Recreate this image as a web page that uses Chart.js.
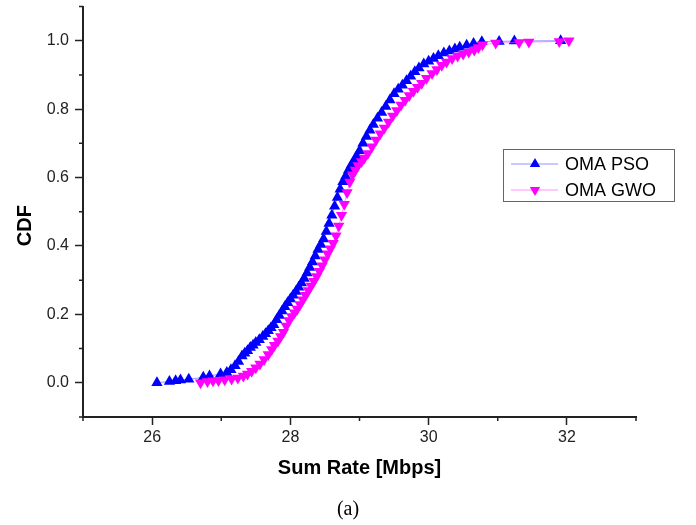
<!DOCTYPE html>
<html>
<head>
<meta charset="utf-8">
<title>CDF of Sum Rate</title>
<script src="https://cdn.jsdelivr.net/npm/chart.js@4.4.1/dist/chart.umd.min.js"></script>
<style>
  html, body { margin: 0; padding: 0; background: #fff; }
  #wrap { width: 696px; height: 525px; }
</style>
</head>
<body>
<div id="wrap"><canvas id="cdf" width="696" height="525"></canvas></div>
<script>
// series names and values
const seriesNames = ["OMA PSO", "OMA GWO"];

const psoRate = [26.07, 26.25, 26.34, 26.41, 26.53, 26.74, 26.83, 26.99, 27.08, 27.14,
  27.20, 27.25, 27.30, 27.34, 27.38, 27.42, 27.46, 27.50, 27.55, 27.60,
  27.64, 27.68, 27.72, 27.76, 27.80, 27.84, 27.88, 27.92, 27.96, 28.00,
  28.04, 28.08, 28.12, 28.16, 28.20, 28.24, 28.28, 28.32, 28.36, 28.40,
  28.44, 28.48, 28.52, 28.56, 28.60, 28.64, 28.68, 28.72, 28.76, 28.80,
  28.84, 28.88, 28.92, 28.96, 29.00, 29.05, 29.10, 29.15, 29.20, 29.26,
  29.32, 29.38, 29.44, 29.50, 29.56, 29.62, 29.68, 29.74, 29.80, 29.86,
  29.93, 30.00, 30.07, 30.14, 30.22, 30.30, 30.38, 30.45, 30.55, 30.65,
  30.77, 31.02, 31.24, 31.91];
const psoCdf = [0.000, 0.004, 0.006, 0.008, 0.010, 0.016, 0.020, 0.026, 0.030, 0.038,
  0.050, 0.062, 0.078, 0.086, 0.094, 0.103, 0.110, 0.118, 0.126, 0.135,
  0.143, 0.152, 0.161, 0.170, 0.184, 0.197, 0.210, 0.222, 0.234, 0.245,
  0.256, 0.267, 0.279, 0.292, 0.305, 0.321, 0.337, 0.353, 0.371, 0.390,
  0.404, 0.420, 0.442, 0.466, 0.490, 0.516, 0.542, 0.566, 0.588, 0.604,
  0.621, 0.636, 0.650, 0.663, 0.678, 0.700, 0.720, 0.738, 0.755, 0.773,
  0.790, 0.808, 0.827, 0.845, 0.858, 0.870, 0.883, 0.896, 0.909, 0.920,
  0.932, 0.940, 0.948, 0.956, 0.964, 0.970, 0.976, 0.981, 0.987, 0.992,
  0.997, 0.998, 0.999, 1.000];

const gwoRate = [26.70, 26.80, 26.88, 26.96, 27.05, 27.15, 27.24, 27.32, 27.38, 27.44,
  27.50, 27.56, 27.62, 27.68, 27.73, 27.77, 27.82, 27.86, 27.90, 27.94,
  27.98, 28.02, 28.06, 28.10, 28.14, 28.18, 28.22, 28.26, 28.30, 28.34,
  28.38, 28.42, 28.46, 28.50, 28.54, 28.58, 28.62, 28.66, 28.70, 28.74,
  28.78, 28.82, 28.86, 28.90, 28.94, 28.98, 29.03, 29.07, 29.12, 29.18,
  29.24, 29.30, 29.36, 29.42, 29.48, 29.54, 29.60, 29.66, 29.72, 29.78,
  29.84, 29.90, 29.97, 30.05, 30.12, 30.19, 30.26, 30.34, 30.42, 30.50,
  30.58, 30.66, 30.72, 30.78, 30.97, 31.31, 31.45, 31.89, 32.03];
const gwoCdf = [0.000, 0.004, 0.006, 0.007, 0.009, 0.011, 0.014, 0.020, 0.026, 0.034,
  0.044, 0.055, 0.068, 0.083, 0.097, 0.110, 0.122, 0.135, 0.148, 0.166,
  0.182, 0.194, 0.205, 0.216, 0.229, 0.243, 0.256, 0.270, 0.283, 0.297,
  0.311, 0.326, 0.342, 0.360, 0.377, 0.392, 0.408, 0.430, 0.458, 0.490,
  0.522, 0.556, 0.587, 0.608, 0.622, 0.635, 0.647, 0.657, 0.670, 0.690,
  0.710, 0.728, 0.745, 0.762, 0.780, 0.796, 0.812, 0.826, 0.840, 0.852,
  0.864, 0.876, 0.890, 0.904, 0.916, 0.928, 0.938, 0.948, 0.955, 0.961,
  0.967, 0.973, 0.980, 0.988, 0.993, 0.995, 0.996, 0.998, 1.000];

// axis ticks
const xTicks = [26, 28, 30, 32];
const xMinorTicks = [25, 27, 29, 31, 33];
const yTicks = [0.0, 0.2, 0.4, 0.6, 0.8, 1.0];
const yMinorTicks = [-0.1, 0.1, 0.3, 0.5, 0.7, 0.9, 1.1];

const sans = "'Liberation Sans', Arial, sans-serif";
const blue = "#0000ff";
const magenta = "#ff00ff";

const toPoints = (xs, ys) => xs.map((x, i) => ({ x: x, y: ys[i] }));

// short outward minor ticks, like Origin draws them
const minorTicks = {
  id: "minorTicks",
  afterDraw(chart) {
    const { ctx, chartArea, scales } = chart;
    ctx.save();
    ctx.strokeStyle = "#222";
    ctx.lineWidth = 1.5;
    ctx.beginPath();
    xMinorTicks.forEach((v) => {
      const px = scales.x.getPixelForValue(v);
      ctx.moveTo(px, chartArea.bottom);
      ctx.lineTo(px, chartArea.bottom + 4);
    });
    yMinorTicks.forEach((v) => {
      const py = scales.y.getPixelForValue(v);
      ctx.moveTo(chartArea.left, py);
      ctx.lineTo(chartArea.left - 4, py);
    });
    ctx.stroke();
    ctx.restore();
  },
};

// boxed legend sitting inside the plot on the right
const boxLegend = {
  id: "boxLegend",
  afterDraw(chart) {
    const { ctx, chartArea } = chart;
    const left = chartArea.right - 133;
    const top = 149;
    ctx.save();
    ctx.strokeStyle = "#666";
    ctx.lineWidth = 1;
    ctx.strokeRect(left + 0.5, top + 0.5, 171, 52);
    chart.data.datasets.forEach((ds, i) => {
      const y = top + 15 + i * 26;
      ctx.strokeStyle = ds.borderColor;
      ctx.lineWidth = 1;
      ctx.beginPath();
      ctx.moveTo(left + 8, y);
      ctx.lineTo(left + 55, y);
      ctx.stroke();
      const cx = left + 32;
      const r = 6;
      const dir = ds.pointRotation === 180 ? -1 : 1;
      ctx.fillStyle = ds.pointBackgroundColor;
      ctx.beginPath();
      ctx.moveTo(cx, y - dir * r);
      ctx.lineTo(cx - r * 0.866, y + dir * r * 0.5);
      ctx.lineTo(cx + r * 0.866, y + dir * r * 0.5);
      ctx.closePath();
      ctx.fill();
      ctx.fillStyle = "#000";
      ctx.font = "18px " + sans;
      ctx.textBaseline = "middle";
      ctx.textAlign = "left";
      ctx.fillText(ds.label, left + 62, y + 1);
    });
    ctx.restore();
  },
};

new Chart(document.getElementById("cdf"), {
  type: "scatter",
  data: {
    datasets: [
      {
        label: seriesNames[0],
        data: toPoints(psoRate, psoCdf),
        showLine: true,
        borderColor: "rgba(60,60,255,0.55)",
        borderWidth: 1,
        pointStyle: "triangle",
        pointRadius: 6.5,
        pointRotation: 0,
        pointBackgroundColor: blue,
        pointBorderColor: blue,
        pointBorderWidth: 0,
        order: 2,
      },
      {
        label: seriesNames[1],
        data: toPoints(gwoRate, gwoCdf),
        showLine: true,
        borderColor: "rgba(255,60,255,0.55)",
        borderWidth: 1,
        pointStyle: "triangle",
        pointRadius: 6.5,
        pointRotation: 180,
        pointBackgroundColor: magenta,
        pointBorderColor: magenta,
        pointBorderWidth: 0,
        order: 1,
      },
    ],
  },
  options: {
    responsive: false,
    devicePixelRatio: 1,
    animation: false,
    layout: { padding: { left: 0, right: 0, top: 5, bottom: 0 } },
    plugins: {
      legend: { display: false },
      tooltip: { enabled: false },
      title: {
        display: true,
        text: "(a)",
        position: "bottom",
        color: "#000",
        font: { family: "'Liberation Serif', 'Times New Roman', serif", size: 20, weight: "normal" },
        padding: { top: 8, bottom: 3 },
      },
    },
    scales: {
      x: {
        type: "linear",
        min: 25,
        max: 33,
        afterBuildTicks: (s) => { s.ticks = xTicks.map((v) => ({ value: v })); },
        afterFit: (s) => { s.height = 73; s.paddingLeft = 0; s.paddingRight = 0; },
        ticks: {
          color: "#222",
          font: { family: sans, size: 16 },
          padding: 3,
          maxRotation: 0,
          callback: (v) => String(v),
        },
        grid: { drawOnChartArea: false, drawTicks: true, tickLength: 8, tickColor: "#222", tickWidth: 1.5 },
        border: { display: true, color: "#222", width: 2 },
        title: {
          display: true,
          text: "Sum Rate [Mbps]",
          color: "#000",
          font: { family: sans, size: 20, weight: "bold" },
          padding: { top: 0, bottom: 10 },
        },
      },
      y: {
        type: "linear",
        min: -0.1,
        max: 1.1,
        afterBuildTicks: (s) => { s.ticks = yTicks.map((v) => ({ value: v })); },
        afterFit: (s) => { s.width = 83; s.paddingTop = 0; s.paddingBottom = 0; },
        ticks: {
          color: "#222",
          font: { family: sans, size: 16 },
          padding: 6,
          callback: (v) => v.toFixed(1),
        },
        grid: { drawOnChartArea: false, drawTicks: true, tickLength: 8, tickColor: "#222", tickWidth: 1.5 },
        border: { display: true, color: "#222", width: 2 },
        title: {
          display: true,
          text: "CDF     ",
          color: "#000",
          font: { family: sans, size: 20, weight: "bold" },
          padding: { top: 13, bottom: 0 },
        },
      },
      // empty right-hand margin so the "(a)" caption centres on the whole figure
      margin: {
        type: "linear",
        position: "right",
        display: true,
        afterFit: (s) => { s.width = 60; s.paddingTop = 0; s.paddingBottom = 0; },
        ticks: { display: false },
        grid: { display: false, drawTicks: false },
        border: { display: false },
        title: { display: false },
      },
    },
  },
  plugins: [minorTicks, boxLegend],
});
</script>
</body>
</html>
